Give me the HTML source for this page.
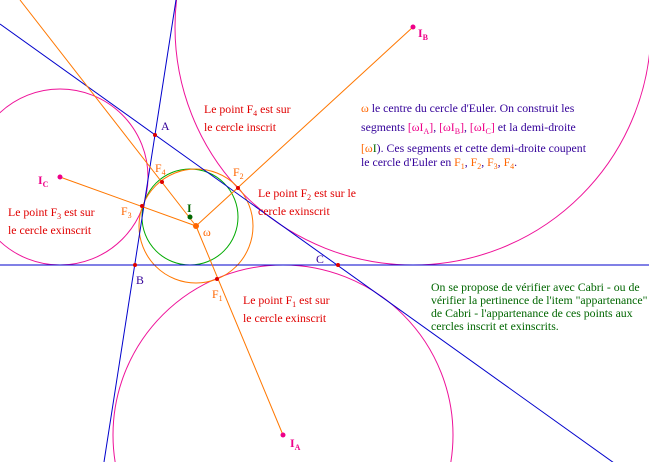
<!DOCTYPE html>
<html><head><meta charset="utf-8"><style>
html,body{margin:0;background:#fff;width:649px;height:462px;overflow:hidden}
svg{display:block;overflow:hidden}
text{font-family:"Liberation Serif",serif;font-size:11.8px}
.r{fill:#e00000}.b{fill:#330099}.o{fill:#ff6600}.p{fill:#ee0088}.g{fill:#006600}.dg{fill:#006600}
</style></head><body>
<svg width="649" height="462" viewBox="0 0 649 462">
<g fill="none" stroke-width="1">
<circle cx="283" cy="435" r="170" stroke="#ee1199"/>
<circle cx="413" cy="27" r="238" stroke="#ee1199"/>
<circle cx="60" cy="177" r="88" stroke="#ee1199"/>
<circle cx="190" cy="217" r="48" stroke="#00aa00"/>
<circle cx="196" cy="226" r="57" stroke="#ff7700"/>
<line x1="0" y1="265" x2="649" y2="265" stroke="#0000cc"/>
<line x1="176" y1="0" x2="104" y2="462" stroke="#0000cc"/>
<line x1="0" y1="24" x2="649" y2="488" stroke="#0000cc"/>
<line x1="196" y1="226" x2="20" y2="0" stroke="#ff7700"/>
<line x1="196" y1="226" x2="283" y2="435" stroke="#ff7700"/>
<line x1="196" y1="226" x2="413" y2="27" stroke="#ff7700"/>
<line x1="196" y1="226" x2="60" y2="177" stroke="#ff7700"/>
</g>
<g fill="#dd0000">
<circle cx="155" cy="135" r="2"/><circle cx="135" cy="265" r="2"/><circle cx="338" cy="265" r="2"/>
<circle cx="217" cy="279" r="2"/><circle cx="238" cy="188" r="2"/>
<circle cx="142" cy="206" r="2"/><circle cx="162" cy="182" r="2"/>
</g>
<circle cx="283" cy="435" r="2.5" fill="#ee0088"/><circle cx="413" cy="27" r="2.5" fill="#ee0088"/><circle cx="60" cy="177" r="2.5" fill="#ee0088"/>
<circle cx="190" cy="217" r="2.5" fill="#006600"/><circle cx="196" cy="226" r="3" fill="#ff6600"/>
<text x="161" y="130" class="b">A</text><text x="136" y="284" class="b">B</text><text x="316" y="263" class="b">C</text>
<text x="187" y="212" class="dg" font-weight="bold">I</text><text x="203" y="236" class="o">ω</text>
<text x="418" y="37" class="p" font-weight="bold">I<tspan font-size="8" dy="3">B</tspan></text>
<text x="38" y="184" class="p" font-weight="bold">I<tspan font-size="8" dy="3">C</tspan></text>
<text x="290" y="447" class="p" font-weight="bold">I<tspan font-size="8" dy="3">A</tspan></text>
<text x="155" y="172" class="o">F<tspan font-size="8" dy="3">4</tspan></text>
<text x="233" y="176" class="o">F<tspan font-size="8" dy="3">2</tspan></text>
<text x="121" y="215" class="o">F<tspan font-size="8" dy="3">3</tspan></text>
<text x="212" y="298" class="o">F<tspan font-size="8" dy="3">1</tspan></text>
<text x="204" y="113" class="r">Le point F<tspan font-size="8" dy="3">4</tspan><tspan dy="-3"> est sur</tspan></text>
<text x="204" y="131" class="r">le cercle inscrit</text>
<text x="258" y="197" class="r">Le point F<tspan font-size="8" dy="3">2</tspan><tspan dy="-3"> est sur le</tspan></text>
<text x="258" y="215" class="r">cercle exinscrit</text>
<text x="8" y="216" class="r">Le point F<tspan font-size="8" dy="3">3</tspan><tspan dy="-3"> est sur</tspan></text>
<text x="8" y="234" class="r">le cercle exinscrit</text>
<text x="243" y="304" class="r">Le point F<tspan font-size="8" dy="3">1</tspan><tspan dy="-3"> est sur</tspan></text>
<text x="243" y="322" class="r">le cercle exinscrit</text>
<text x="361" y="112" class="b"><tspan class="o">ω</tspan> le centre du cercle d'Euler. On construit les</text>
<text x="361" y="131" class="b">segments <tspan class="p">[ωI<tspan font-size="8" dy="3">A</tspan><tspan dy="-3">]</tspan></tspan>, <tspan class="p">[ωI<tspan font-size="8" dy="3">B</tspan><tspan dy="-3">]</tspan></tspan>, <tspan class="p">[ωI<tspan font-size="8" dy="3">C</tspan><tspan dy="-3">]</tspan></tspan> et la demi-droite</text>
<text x="361" y="152" class="b"><tspan class="o">[ω</tspan><tspan class="g">I</tspan>). Ces segments et cette demi-droite coupent</text>
<text x="361" y="166" class="b">le cercle d'Euler en <tspan class="o">F<tspan font-size="8" dy="3">1</tspan></tspan><tspan dy="-3">, </tspan><tspan class="o">F<tspan font-size="8" dy="3">2</tspan></tspan><tspan dy="-3">, </tspan><tspan class="o">F<tspan font-size="8" dy="3">3</tspan></tspan><tspan dy="-3">, </tspan><tspan class="o">F<tspan font-size="8" dy="3">4</tspan></tspan><tspan dy="-3">.</tspan></text>
<text x="431" y="291" class="g">On se propose de vérifier avec Cabri - ou de</text>
<text x="431" y="304" class="g">vérifier la pertinence de l'item "appartenance"</text>
<text x="431" y="317" class="g">de Cabri - l'appartenance de ces points aux</text>
<text x="431" y="330" class="g">cercles inscrit et exinscrits.</text>
</svg>
</body></html>
